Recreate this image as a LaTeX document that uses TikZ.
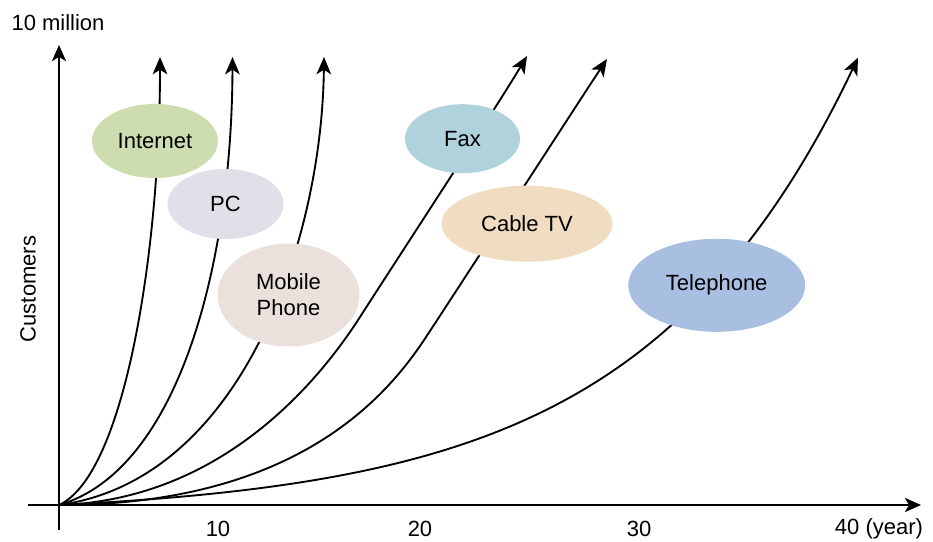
\documentclass[tikz,border=0pt]{standalone}
\usepackage{fontspec}
\setmainfont{Liberation Sans}
\usetikzlibrary{arrows.meta,shapes.geometric}
\definecolor{cInternet}{RGB}{205,221,176}
\definecolor{cPC}{RGB}{225,224,232}
\definecolor{cMobile}{RGB}{234,224,220}
\definecolor{cFax}{RGB}{175,210,221}
\definecolor{cCable}{RGB}{240,220,192}
\definecolor{cTel}{RGB}{169,191,226}
\tikzset{
  axisline/.style={line width=2pt,-{Stealth[length=12pt,width=10.5pt,inset=3pt]}},
  curveline/.style={line width=1.4pt,-{Stealth[length=13pt,width=11pt,inset=3.5pt]}},
  bubble/.style={ellipse,draw=none,inner sep=0pt,align=center,font=\fontsize{16.5}{19.3}\selectfont},
  lbl/.style={font=\fontsize{16.5}{19.3}\selectfont,inner sep=0pt}
}
\begin{document}
\begin{tikzpicture}[x=0.75pt,y=-0.75pt]
\useasboundingbox (0,0) rectangle (933,542);
% axes
\coordinate (O) at (59,505);
\coordinate (xs) at (28,505);
\coordinate (xe) at (921,505);
\coordinate (ys) at (59,530);
\coordinate (ye) at (59,45);
\draw[axisline] (xs) -- (xe);
\draw[axisline] (ys) -- (ye);
% curve end points
\coordinate (tInternet) at (160,57);
\coordinate (tPC) at (232.5,57);
\coordinate (tMobile) at (324,57);
\coordinate (mFax) at (360,317);
\coordinate (tFax) at (527,56);
\coordinate (mCable) at (428,334);
\coordinate (tCable) at (607,59);
% curves
\draw[curveline] (O) .. controls (125,475) and (160,250) .. (tInternet);
\draw[curveline] (O) .. controls (180,470) and (232,260) .. (tPC);
\draw[curveline] (O) .. controls (242,480) and (322,240) .. (tMobile);
\draw[curveline] (O) .. controls (220,500) and (317,384) .. (mFax)
                     .. controls (392,267) and (496,108) .. (tFax);
\draw[curveline] (O) .. controls (300,505) and (390,393) .. (mCable)
                     .. controls (461,284) and (574,109) .. (tCable);
\draw[curveline] plot[domain=0:799,samples=80,smooth] ({59+\x},{505-10.72*(exp(0.0047*\x)-1)});
% bubbles
\node[bubble,fill=cInternet,minimum width=126*0.75pt,minimum height=74*0.75pt] (internet) at (155,141) {Internet};
\node[bubble,fill=cPC,minimum width=116*0.75pt,minimum height=70*0.75pt] (pc) at (225.5,204) {PC};
\node[bubble,fill=cMobile,minimum width=142*0.75pt,minimum height=103*0.75pt] (mobile) at (288.5,295) {Mobile\\Phone};
\node[bubble,fill=cFax,minimum width=115*0.75pt,minimum height=69*0.75pt] (fax) at (462.5,138.7) {Fax};
\node[bubble,fill=cCable,minimum width=171*0.75pt,minimum height=76*0.75pt] (cable) at (527,223.7) {Cable TV};
\node[bubble,fill=cTel,minimum width=177*0.75pt,minimum height=93*0.75pt] (tel) at (716.7,285.3) {Telephone};
% labels
\node[lbl] (ymax) at (58,23) {10 million};
\node[lbl,rotate=90] (ylab) at (28,289) {Customers};
\node[lbl] (t10) at (218,529) {10};
\node[lbl] (t20) at (420,529) {20};
\node[lbl] (t30) at (639,529) {30};
\node[lbl] (t40) at (879,529) {40 (year)};
\end{tikzpicture}
\end{document}
